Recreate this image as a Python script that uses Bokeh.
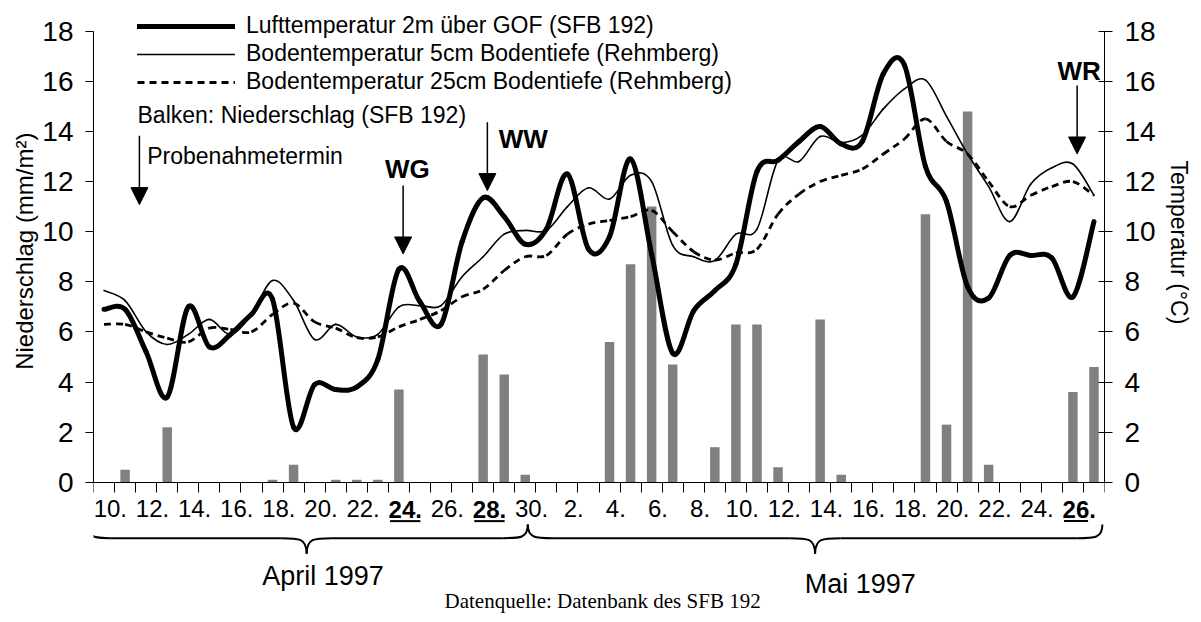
import math
from bokeh.plotting import figure
from bokeh.models import (Range1d, LinearAxis, FixedTicker, Legend, LegendItem,
                          Label, Arrow, NormalHead, ColumnDataSource, Title)
from bokeh.embed import file_html
from bokeh.resources import INLINE

# ---------------- data ----------------
# 48 days: 10 April 1997 ... 27 May 1997
day_labels = [f"{d}." for d in range(10, 31)] + [f"{d}." for d in range(1, 28)]
months = ["April 1997", "Mai 1997"]
month_days = [21, 27]

niederschlag = [0, 0.5, 0, 2.2, 0, 0, 0, 0, 0.1, 0.7, 0, 0.1, 0.1, 0.1, 3.7, 0,
                0, 0, 5.1, 4.3, 0.3, 0, 0, 0, 5.6, 8.7, 11.0, 4.7, 0, 1.4, 6.3, 6.3,
                0.6, 0, 6.5, 0.3, 0, 0, 0, 10.7, 2.3, 14.8, 0.7, 0, 0, 0, 3.6, 4.6]

luft = [6.9, 6.9, 5.2, 3.4, 7.0, 5.4, 5.9, 6.7, 7.3, 2.2, 3.9, 3.7, 3.8, 4.9, 8.5, 7.2,
        6.3, 9.6, 11.35, 10.6, 9.5, 10.1, 12.3, 9.3, 9.8, 12.9, 9.1, 5.15, 6.85, 7.65, 8.7, 12.4,
        12.85, 13.6, 14.2, 13.5, 13.6, 16.3, 16.65, 12.6, 11.2, 7.8, 7.35, 9.05, 9.05, 8.95, 7.4, 10.4]

boden5 = [7.65, 7.25, 6.0, 5.5, 5.9, 6.5, 5.9, 6.7, 8.05, 7.25, 5.7, 6.3, 5.8, 5.9, 7.0, 7.05,
          7.05, 8.2, 9.0, 9.9, 10.05, 10.05, 11.0, 11.75, 11.3, 12.25, 12.0, 9.45, 9.0, 8.85, 9.9, 10.1,
          12.85, 12.8, 13.8, 13.55, 13.85, 14.9, 15.7, 16.05, 14.6, 13.1, 11.8, 10.4, 11.9, 12.55, 12.7, 11.45]

boden25 = [6.3, 6.3, 6.0, 5.75, 5.6, 6.15, 6.1, 6.0, 6.7, 7.15, 6.4, 6.15, 5.77, 5.8, 6.2, 6.5,
           6.85, 7.4, 7.7, 8.45, 9.0, 9.05, 9.9, 10.3, 10.45, 10.6, 10.85, 10.0, 9.2, 8.87, 9.15, 9.3,
           10.7, 11.5, 12.0, 12.25, 12.5, 13.1, 13.7, 14.5, 13.6, 13.1, 12.0, 11.0, 11.45, 11.8, 12.0, 11.45]

termine = ["WG", "WW", "WR"]
termin_days = [14, 18, 46]          # 24.4., 28.4., 26.5.

labels_legend = ["Lufttemperatur 2m über GOF (SFB 192)",
                 "Bodentemperatur 5cm Bodentiefe (Rehmberg)",
                 "Bodentemperatur 25cm Bodentiefe (Rehmberg)"]

FONT = "Liberation Sans"
n = len(day_labels)
xc = [i + 0.5 for i in range(n)]
LSHIFT = 0.3   # date labels sit slightly right of the bar centre


def smooth(ys):
    d = dict(x0=[], y0=[], x1=[], y1=[], cx0=[], cy0=[], cx1=[], cy1=[])
    m = len(ys)
    for i in range(m - 1):
        im, ip = max(i - 1, 0), min(i + 2, m - 1)
        d["x0"].append(xc[i]); d["y0"].append(ys[i])
        d["x1"].append(xc[i + 1]); d["y1"].append(ys[i + 1])
        d["cx0"].append(xc[i] + (xc[i + 1] - xc[im]) / 6)
        d["cy0"].append(ys[i] + (ys[i + 1] - ys[im]) / 6)
        d["cx1"].append(xc[i + 1] - (xc[ip] - xc[i]) / 6)
        d["cy1"].append(ys[i + 1] - (ys[ip] - ys[i]) / 6)
    return ColumnDataSource(d)


p = figure(width=1200, height=620, output_backend="svg", toolbar_location=None,
           x_range=Range1d(0, n), y_range=Range1d(-5.516, 19.225),
           x_axis_type=None, y_axis_type=None,
           min_border_left=93, min_border_right=96, min_border_top=0, min_border_bottom=0)
p.outline_line_color = None
p.background_fill_color = "white"
p.border_fill_color = "white"

# axes
yt = FixedTicker(ticks=list(range(0, 19, 2)))
for side, tin in (("left", 0), ("right", 6)):
    ax = LinearAxis(ticker=yt, bounds=(0, 18), major_tick_out=8, major_tick_in=tin,
                    minor_tick_out=0, minor_tick_in=0,
                    major_label_text_font=FONT, major_label_text_font_size="28px",
                    major_label_standoff=12, axis_line_color="black",
                    major_tick_line_color="black", major_label_text_color="black")
    p.add_layout(ax, side)

# axis titles (side titles, outside the axes, positioned along the axis)
p.add_layout(Title(text="Niederschlag (mm/m²)", align="right", offset=132,
                   text_font=FONT, text_font_size="24px", text_font_style="normal",
                   text_color="black", standoff=4), "left")
p.add_layout(Title(text="Temperatur (°C)", align="left", offset=160,
                   text_font=FONT, text_font_size="23px", text_font_style="normal",
                   text_color="black", standoff=14), "right")

bold_set = set(termin_days)
major = [xc[i] + LSHIFT for i in range(0, n, 2)]
overrides = {xc[i] + LSHIFT: ("" if i in bold_set else day_labels[i]) for i in range(0, n, 2)}
xax = LinearAxis(ticker=FixedTicker(ticks=major, minor_ticks=list(range(0, n + 1))),
                 fixed_location=0, major_tick_out=0, major_tick_in=0,
                 minor_tick_out=10, minor_tick_in=0, minor_tick_line_color="black",
                 major_label_overrides=overrides, major_label_standoff=8,
                 major_label_text_font=FONT, major_label_text_font_size="24px",
                 major_label_text_color="black", axis_line_color="black")
p.add_layout(xax, "below")

# bars
p.vbar(x=xc, top=niederschlag, width=0.45, bottom=0, fill_color="#808080", line_color=None)

# lines
r_luft = p.bezier(x0="x0", y0="y0", x1="x1", y1="y1", cx0="cx0", cy0="cy0", cx1="cx1", cy1="cy1",
                  source=smooth(luft), line_color="black", line_width=5, line_cap="round")
r_b5 = p.bezier(x0="x0", y0="y0", x1="x1", y1="y1", cx0="cx0", cy0="cy0", cx1="cx1", cy1="cy1",
                source=smooth(boden5), line_color="black", line_width=1.6, line_cap="round")
r_b25 = p.bezier(x0="x0", y0="y0", x1="x1", y1="y1", cx0="cx0", cy0="cy0", cx1="cx1", cy1="cy1",
                 source=smooth(boden25), line_color="black", line_width=2.8, line_dash="7 5")

legend = Legend(items=[LegendItem(label=labels_legend[0], renderers=[r_luft]),
                       LegendItem(label=labels_legend[1], renderers=[r_b5]),
                       LegendItem(label=labels_legend[2], renderers=[r_b25])],
                location=(44, 525), glyph_width=98, glyph_height=20, label_standoff=11,
                spacing=1, padding=0, margin=0, border_line_color=None,
                background_fill_alpha=0, label_text_font=FONT, label_text_font_size="23px",
                label_text_color="black", label_height=20)
p.add_layout(legend)


# free texts
def lab(x, y, text, size="23px", align="left", baseline="middle", font=FONT, style="normal", angle=0):
    p.add_layout(Label(x=x, y=y, text=text, text_font=font, text_font_size=size,
                       text_align=align, text_baseline=baseline, text_font_style=style,
                       angle=angle, text_color="black"))


lab(2.09, 14.67, "Balken: Niederschlag (SFB 192)")
lab(2.55, 13.0, "Probenahmetermin")
lab(10.9, -3.75, months[0], size="27px", align="center")
lab(36.4, -4.05, months[1], size="27px", align="center")
lab(24.17, -4.72, "Datenquelle: Datenbank des SFB 192", size="21px", align="center",
    font="Liberation Serif")

# legend arrow
p.add_layout(Arrow(end=NormalHead(size=17, fill_color="black", line_color="black"),
                   x_start=2.18, y_start=13.83, x_end=2.18, y_end=11.08,
                   line_color="black", line_width=1.5))

# sampling dates
text_pos = [(14.9, 12.5), (20.4, 13.7), (46.8, 16.43)]
arrow_tops = [11.84, 14.37, 15.83]
for name, d, (tx, ty), top in zip(termine, termin_days, text_pos, arrow_tops):
    xa = xc[d] + 0.2
    p.add_layout(Arrow(end=NormalHead(size=17, fill_color="black", line_color="black"),
                       x_start=xa, y_start=top, x_end=xa, y_end=top - 2.73,
                       line_color="black", line_width=1.5))
    lab(tx, ty, name, size="26px", align="center", style="bold")

# bold underlined tick labels
y_tick_top = -0.76
y_ul = -1.55
ux0, ux1 = [], []
for d in termin_days:
    xl = xc[d] + LSHIFT
    lab(xl, y_tick_top, day_labels[d], size="24px", align="center", baseline="top", style="bold")
    ux0.append(xl - 0.72)
    ux1.append(xl + (0.72 if d != termin_days[-1] else 0.42))
p.segment(x0=ux0, x1=ux1, y0=[y_ul] * len(ux0), y1=[y_ul] * len(ux0), line_color="black", line_width=2)

# curly braces under the months
bx0, by0, bx1, by1, bcx0, bcy0, bcx1, bcy1 = [], [], [], [], [], [], [], []
start = -0.38
yM, yT = -2.23, -2.85
w = 1.2
ends = [(-1.31, -1.69), (-1.69, -1.69)]
for k, nd in enumerate(month_days):
    a = start
    b = start + nd if k == 0 else n - 0.1
    tip = (a + b) / 2
    yl, yr = ends[k]
    segs = [
        ((a, yl), (a, yM), (a + 0.3 * w, yM), (a + w, yM)),
        ((a + w, yM), (a + w + (tip - a - 2 * w) / 3, yM), (tip - w - (tip - a - 2 * w) / 3, yM), (tip - w, yM)),
        ((tip - w, yM), (tip - 0.3 * w, yM), (tip, yM), (tip, yT)),
        ((tip, yT), (tip, yM), (tip + 0.3 * w, yM), (tip + w, yM)),
        ((tip + w, yM), (tip + w + (b - tip - 2 * w) / 3, yM), (b - w - (b - tip - 2 * w) / 3, yM), (b - w, yM)),
        ((b - w, yM), (b - 0.3 * w, yM), (b, yM), (b, yr)),
    ]
    for s0, c0, c1, s1 in segs:
        bx0.append(s0[0]); by0.append(s0[1]); bx1.append(s1[0]); by1.append(s1[1])
        bcx0.append(c0[0]); bcy0.append(c0[1]); bcx1.append(c1[0]); bcy1.append(c1[1])
    start = b
p.bezier(x0=bx0, y0=by0, x1=bx1, y1=by1, cx0=bcx0, cy0=bcy0, cx1=bcx1, cy1=bcy1,
         line_color="black", line_width=2)

open("out.html", "w").write(file_html(p, INLINE))
